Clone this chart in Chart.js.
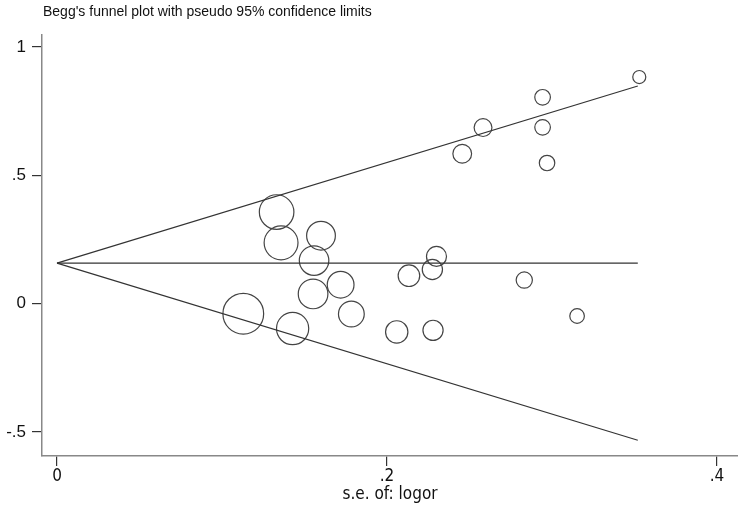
<!DOCTYPE html>
<html>
<head>
<meta charset="utf-8">
<script src="https://cdn.jsdelivr.net/npm/chart.js@4.4.0/dist/chart.umd.min.js"></script>
<style>
  html, body { margin: 0; padding: 0; background: #fff; overflow: hidden; }
  canvas { display: block; }
</style>
</head>
<body>
<canvas id="funnel" width="738" height="506"></canvas>
<script>
// study estimates
const seLogor = [0.3529, 0.2943, 0.2943, 0.2970, 0.2582, 0.2456, 0.1331, 0.1358, 0.1600, 0.1558,
                 0.2300, 0.2275, 0.2133, 0.2832, 0.1719, 0.1552, 0.1784, 0.1129, 0.1428, 0.2059,
                 0.2279, 0.3152];
const logor = [0.883, 0.804, 0.687, 0.548, 0.686, 0.584, 0.357, 0.237, 0.265, 0.168,
               0.184, 0.133, 0.109, 0.092, 0.074, 0.038, -0.040, -0.039, -0.097, -0.110,
               -0.104, -0.048];

// pooled estimate and pseudo 95% limits
const limitSe = [0, 0.352];
const pooled = [0.158, 0.158];
const upperLimit = [0.158, 0.848];
const lowerLimit = [0.158, -0.532];

const xTicks = [0, 0.2, 0.4];
const yTicks = [-0.5, 0, 0.5, 1];

const titleText = "Begg's funnel plot with pseudo 95% confidence limits";
const xTitle = "s.e. of: logor";

const stataNum = v => (v === 0 ? "0" : String(v).replace("0.", "."));
const pairs = (xs, ys) => xs.map((x, i) => ({ x: x, y: ys[i] }));

const lineStyle = {
  type: "line",
  borderColor: "#333",
  borderWidth: 1.2,
  pointRadius: 0,
  fill: false,
  tension: 0
};

const titlePlugin = {
  id: "stataTitle",
  afterDraw(chart) {
    const ctx = chart.ctx;
    ctx.save();
    ctx.font = '14px "Liberation Sans", Arial, sans-serif';
    ctx.fillStyle = "#111";
    ctx.textBaseline = "middle";
    ctx.textAlign = "left";
    ctx.fillText(titleText, 43, 12);
    ctx.restore();
  }
};

const whiteBg = {
  id: "whiteBg",
  beforeDraw(chart) {
    const ctx = chart.ctx;
    ctx.save();
    ctx.fillStyle = "#fff";
    ctx.fillRect(0, 0, chart.width, chart.height);
    ctx.restore();
  }
};

new Chart(document.getElementById("funnel"), {
  data: {
    datasets: [
      Object.assign({ data: pairs(limitSe, upperLimit) }, lineStyle),
      Object.assign({ data: pairs(limitSe, lowerLimit) }, lineStyle),
      Object.assign({ data: pairs(limitSe, pooled) }, lineStyle),
      {
        type: "scatter",
        data: pairs(seLogor, logor),
        pointStyle: "circle",
        pointRadius: ctx => 2.3 / seLogor[ctx.dataIndex],
        pointBackgroundColor: "rgba(0,0,0,0)",
        pointBorderColor: "#444",
        pointBorderWidth: 1.2
      }
    ]
  },
  options: {
    responsive: false,
    devicePixelRatio: 1,
    animation: false,
    events: [],
    layout: { autoPadding: false, padding: { top: 35, right: 0, bottom: 0, left: 0 } },
    plugins: {
      legend: { display: false },
      tooltip: { enabled: false },
      title: { display: false }
    },
    scales: {
      x: {
        type: "linear",
        min: -0.00909,
        max: 0.41273,
        afterBuildTicks: scale => { scale.ticks = xTicks.map(v => ({ value: v })); },
        afterFit: scale => { scale.height = 50; },
        ticks: {
          callback: v => stataNum(v),
          color: "#111",
          padding: 0,
          maxRotation: 0,
          font: { family: '"Liberation Sans Narrow", "DejaVu Sans Condensed", "Liberation Sans", sans-serif', size: 17 }
        },
        grid: { drawOnChartArea: false, drawTicks: true, tickLength: 10, color: "#333", lineWidth: 1.2 },
        border: { display: true, color: "#888", width: 1.5 },
        title: {
          display: true,
          text: xTitle,
          color: "#111",
          padding: { top: 0, bottom: 1 },
          font: { family: '"Liberation Sans Narrow", "DejaVu Sans Condensed", "Liberation Sans", sans-serif', size: 17 }
        }
      },
      y: {
        type: "linear",
        min: -0.5935,
        max: 1.0468,
        afterBuildTicks: scale => { scale.ticks = yTicks.map(v => ({ value: v })); },
        afterFit: scale => { scale.width = 42; },
        ticks: {
          callback: v => stataNum(v),
          color: "#111",
          padding: 6,
          font: { family: '"Liberation Sans", Arial, sans-serif', size: 17 }
        },
        grid: { drawOnChartArea: false, drawTicks: true, tickLength: 10, color: "#333", lineWidth: 1.2 },
        border: { display: true, color: "#888", width: 1.5 }
      }
    }
  },
  plugins: [whiteBg, titlePlugin]
});
</script>
</body>
</html>
